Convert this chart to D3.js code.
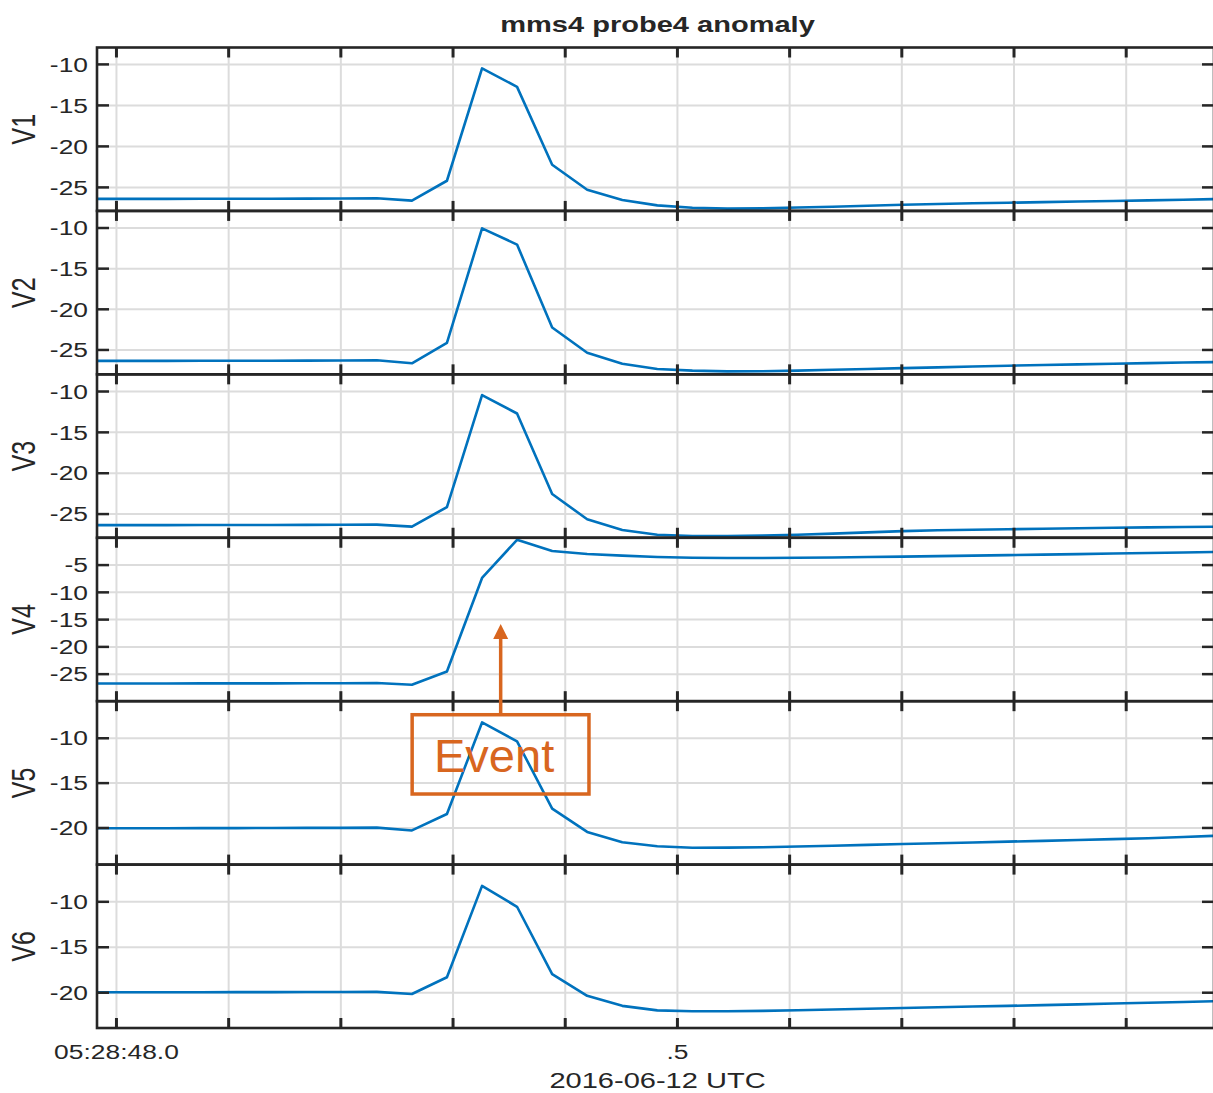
<!DOCTYPE html>
<html>
<head>
<meta charset="utf-8">
<script src="https://cdn.jsdelivr.net/npm/d3@7"></script>
<style>
  body { margin: 0; background: #fff; }
  text { font-family: "Liberation Sans", Arial, Helvetica, sans-serif; fill: #262626; }
</style>
</head>
<body>
<script>
// seconds after 05:28:48.0 (32 Hz samples)
const times = [-0.0175, 0.0138, 0.0450, 0.0763, 0.1075, 0.1388, 0.1700, 0.2013, 0.2325, 0.2638,
  0.2950, 0.3263, 0.3575, 0.3888, 0.4200, 0.4513, 0.4825, 0.5138, 0.5450, 0.5763, 0.6075,
  0.6388, 0.6700, 0.7013, 0.7325, 0.7638, 0.7950, 0.8263, 0.8575, 0.8888, 0.9200, 0.9513, 0.9825];

const panelNames = ['V1', 'V2', 'V3', 'V4', 'V5', 'V6'];

const v1 = [-26.46, -26.46, -26.46, -26.45, -26.45, -26.44, -26.43, -26.42, -26.38, -26.67,
  -24.25, -10.55, -12.8, -22.3, -25.35, -26.6, -27.25, -27.55, -27.65, -27.62, -27.52,
  -27.42, -27.3, -27.18, -27.08, -27.0, -26.93, -26.86, -26.79, -26.72, -26.64, -26.56, -26.48];
const v2 = [-26.4, -26.4, -26.4, -26.39, -26.39, -26.38, -26.37, -26.36, -26.33, -26.7,
  -24.2, -10.1, -12.1, -22.3, -25.4, -26.75, -27.4, -27.6, -27.7, -27.68, -27.6,
  -27.5, -27.4, -27.3, -27.2, -27.1, -27.0, -26.92, -26.84, -26.76, -26.68, -26.61, -26.55];
const v3 = [-26.41, -26.41, -26.41, -26.4, -26.4, -26.39, -26.38, -26.37, -26.35, -26.6,
  -24.2, -10.5, -12.75, -22.6, -25.7, -27.0, -27.6, -27.75, -27.75, -27.7, -27.6,
  -27.45, -27.3, -27.15, -27.05, -26.98, -26.92, -26.86, -26.8, -26.74, -26.69, -26.64, -26.6];
const v4 = [-26.8, -26.8, -26.8, -26.79, -26.79, -26.78, -26.77, -26.76, -26.72, -27.05,
  -24.6, -7.45, -0.45, -2.5, -3.05, -3.35, -3.6, -3.75, -3.8, -3.8, -3.75,
  -3.7, -3.62, -3.54, -3.45, -3.36, -3.27, -3.18, -3.08, -2.98, -2.88, -2.78, -2.68];
const v5 = [-20.08, -20.08, -20.08, -20.07, -20.07, -20.06, -20.05, -20.04, -20.02, -20.33,
  -18.5, -8.29, -10.4, -17.9, -20.5, -21.65, -22.1, -22.26, -22.25, -22.2, -22.12,
  -22.03, -21.94, -21.85, -21.76, -21.67, -21.58, -21.49, -21.4, -21.3, -21.2, -21.06, -20.92];
const v6 = [-20.0, -20.0, -20.0, -20.0, -19.99, -19.99, -19.98, -19.97, -19.96, -20.2,
  -18.35, -8.3, -10.6, -18.0, -20.4, -21.5, -22.0, -22.1, -22.1, -22.05, -21.98,
  -21.9, -21.82, -21.74, -21.66, -21.58, -21.5, -21.42, -21.34, -21.25, -21.16, -21.07, -20.98];
const series = [v1, v2, v3, v4, v5, v6];

const yLimits = [[-27.93, -8.0], [-28.06, -7.96], [-27.96, -7.96], [-30.05, -0.08], [-24.14, -5.92], [-23.94, -5.96]];
const yTickValues = [
  [-25, -20, -15, -10], [-25, -20, -15, -10], [-25, -20, -15, -10],
  [-25, -20, -15, -10, -5], [-20, -15, -10], [-20, -15, -10]
];
const xTickValues = [0, 0.1, 0.2, 0.3, 0.4, 0.5, 0.6, 0.7, 0.8, 0.9];
const xTickLabels = ['05:28:48.0', '', '', '', '', '.5', '', '', '', ''];

const titleText = 'mms4 probe4 anomaly';
const xLabelText = '2016-06-12 UTC';

// event annotation (time in s, values in panel units)
const eventLabel = 'Event';
const eventArrowTime = 0.3429, eventArrowTip = -15.9;        // in V4
const eventBoxTimes = [0.264, 0.4216], eventBoxValues = [-7.43, -16.27];  // in V5
const eventTextTime = 0.2835, eventTextValue = -13.78;

const W = 1213, H = 1093;
const left = 97, right = 1214, top0 = 47.5, panelH = 163.42;
const sx = 1.32;   // horizontal stretch of the text
const axisCol = '#262626', gridCol = '#dcdcdc', lineCol = '#0072BD', evCol = '#D8661F';

const svg = d3.select('body').append('svg').attr('width', W).attr('height', H);

const x = d3.scaleLinear().domain([-0.0169, 0.9787]).range([left, right]);
const yScales = [];

panelNames.forEach((name, i) => {
    const top = top0 + i * panelH, bottom = top + panelH;
    const y = d3.scaleLinear().domain(yLimits[i]).range([bottom, top]);
    yScales.push(y);
    const g = svg.append('g');

    // grid
    g.append('g')
        .attr('transform', `translate(0,${bottom})`)
        .call(d3.axisBottom(x).tickValues(xTickValues).tickSize(-panelH).tickFormat(''))
        .call(s => s.select('.domain').remove())
        .selectAll('line').attr('stroke', gridCol).attr('stroke-width', 2);
    g.append('g')
        .attr('transform', `translate(${left},0)`)
        .call(d3.axisLeft(y).tickValues(yTickValues[i]).tickSize(-(right - left)).tickFormat(''))
        .call(s => s.select('.domain').remove())
        .selectAll('line').attr('stroke', gridCol).attr('stroke-width', 2);

    // data line
    svg.append('clipPath').attr('id', 'clip' + i)
        .append('rect').attr('x', left).attr('y', top).attr('width', right - left).attr('height', panelH);
    g.append('path')
        .datum(series[i])
        .attr('clip-path', `url(#clip${i})`)
        .attr('fill', 'none')
        .attr('stroke', lineCol)
        .attr('stroke-width', 2.6)
        .attr('stroke-linejoin', 'round')
        .attr('d', d3.line().x((d, k) => x(times[k])).y(d => y(d)));

    // y ticks left with labels (plain hyphen minus like the original)
    const ya = g.append('g')
        .attr('transform', `translate(${left},0)`)
        .call(d3.axisLeft(y).tickValues(yTickValues[i]).tickSize(-12).tickPadding(0)
            .tickFormat(d => String(d)));
    ya.select('.domain').remove();
    ya.selectAll('line').attr('stroke', axisCol).attr('stroke-width', 2.5);
    ya.selectAll('text')
        .attr('x', -9 / sx).attr('dy', '0.36em')
        .attr('transform', `scale(${sx},1)`)
        .style('font-size', '20px').style('fill', axisCol);

    // y ticks right
    g.append('g')
        .attr('transform', `translate(${right},0)`)
        .call(d3.axisRight(y).tickValues(yTickValues[i]).tickSize(-12).tickFormat(''))
        .call(s => s.select('.domain').remove())
        .selectAll('line').attr('stroke', axisCol).attr('stroke-width', 2.5);

    // x ticks top
    g.append('g')
        .attr('transform', `translate(0,${top})`)
        .call(d3.axisTop(x).tickValues(xTickValues).tickSize(-10).tickFormat(''))
        .call(s => s.select('.domain').remove())
        .selectAll('line').attr('stroke', axisCol).attr('stroke-width', 3);

    // x ticks bottom
    const xa = g.append('g')
        .attr('transform', `translate(0,${bottom})`)
        .call(d3.axisBottom(x).tickValues(xTickValues).tickSize(-10)
            .tickFormat((d, k) => i === panelNames.length - 1 ? xTickLabels[k] : ''));
    xa.select('.domain').remove();
    xa.selectAll('line').attr('stroke', axisCol).attr('stroke-width', 3);
    xa.selectAll('text')
        .attr('y', 31).attr('dy', 0)
        .attr('transform', `scale(${sx},1)`)
        .style('font-size', '20px').style('fill', axisCol);

    // box
    g.append('rect')
        .attr('x', left).attr('y', top)
        .attr('width', right - left).attr('height', panelH)
        .attr('fill', 'none').attr('stroke', axisCol).attr('stroke-width', 2.6);

    // y label
    g.append('text')
        .attr('transform', `translate(35,${top + panelH / 2}) scale(${sx},1) rotate(-90)`)
        .attr('text-anchor', 'middle')
        .style('font-size', '25px')
        .text(name);
});

// title
svg.append('text')
    .attr('transform', `translate(${(left + right) / 2 + 2},32) scale(${sx},1)`)
    .attr('text-anchor', 'middle')
    .style('font-size', '22px').style('font-weight', 'bold')
    .text(titleText);

// x label
svg.append('text')
    .attr('transform', `translate(${(left + right) / 2 + 2},1088) scale(${sx},1)`)
    .attr('text-anchor', 'middle')
    .style('font-size', '22px')
    .text(xLabelText);

// event annotation
const y4 = yScales[3], y5 = yScales[4];
const ax = x(eventArrowTime), tipY = y4(eventArrowTip);
const bx0 = x(eventBoxTimes[0]), bx1 = x(eventBoxTimes[1]);
const by0 = y5(eventBoxValues[0]), by1 = y5(eventBoxValues[1]);
const ev = svg.append('g');
ev.append('line')
    .attr('x1', ax).attr('x2', ax)
    .attr('y1', by0).attr('y2', tipY + 12)
    .attr('stroke', evCol).attr('stroke-width', 3.5);
ev.append('path')
    .attr('d', `M${ax},${tipY} L${ax - 7.5},${tipY + 15} L${ax + 7.5},${tipY + 15} Z`)
    .attr('fill', evCol);
ev.append('rect')
    .attr('x', bx0).attr('y', by0)
    .attr('width', bx1 - bx0).attr('height', by1 - by0)
    .attr('fill', 'none').attr('stroke', evCol).attr('stroke-width', 3.5);
ev.append('text')
    .attr('x', x(eventTextTime)).attr('y', y5(eventTextValue))
    .style('font-size', '47px').style('fill', evCol)
    .text(eventLabel);
</script>
</body>
</html>
